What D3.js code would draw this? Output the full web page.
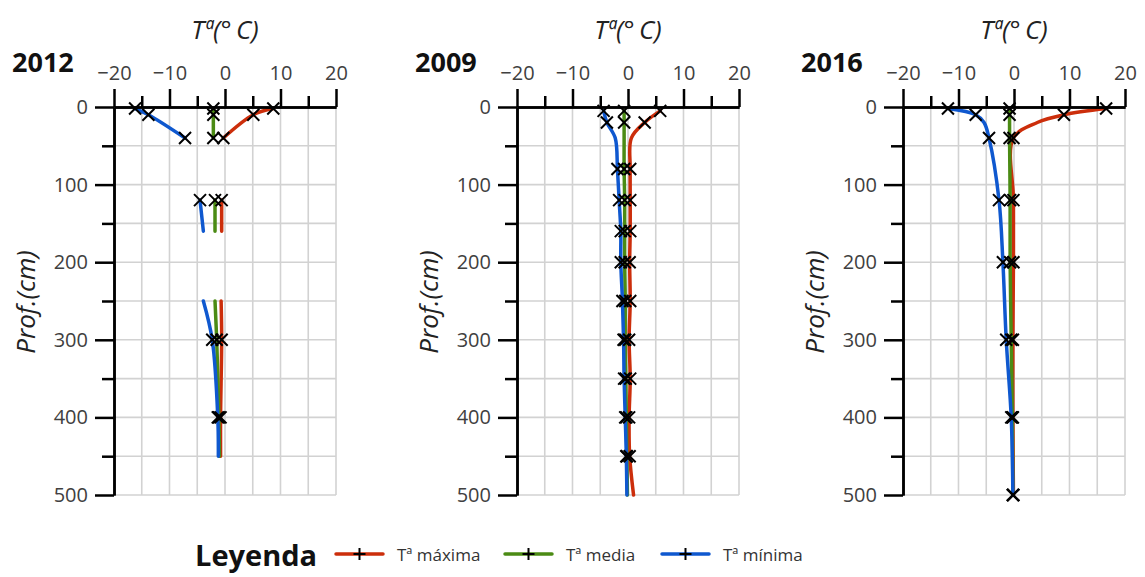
<!DOCTYPE html>
<html>
<head>
<meta charset="utf-8">
<script src="https://cdn.jsdelivr.net/npm/d3@7"></script>
<style>
  body { margin: 0; background: #fff; }
  svg { display: block; font-family: "Open Sans", sans-serif; }
</style>
</head>
<body>
<div id="chart"></div>
<script>
// ─── DATA ───────────────────────────────────────────────────────────────────
const years = ['2012', '2009', '2016'];

// 2012 (null = no reading, breaks the line)
const depth2012 = [2, 10, 40, 80, 120, 160, 200, 250, 300, 400, 450];
const max2012   = [8.7, 5.1, -0.3, null, -0.6, -0.6, null, -0.7, -0.6, -0.8, -0.8];
const mean2012  = [-2.1, -2.1, -2.1, null, -1.8, -1.8, null, -1.8, -1.5, -1.1, -1.0];
const min2012   = [-16.2, -13.8, -7.2, null, -4.5, -3.9, null, -3.9, -2.3, -1.3, -1.2];
const marks2012 = [2, 10, 40, 120, 300, 400];

// 2009
const depth2009 = [5, 20, 40, 80, 120, 160, 200, 250, 300, 350, 400, 450, 500];
const max2009   = [5.8, 3.0, 0.6, 0.4, 0.4, 0.4, 0.3, 0.4, 0.2, 0.4, 0.2, 0.3, 1.0];
const mean2009  = [-0.7, -0.7, -0.7, -0.7, -0.6, -0.6, -0.6, -0.5, -0.5, -0.4, -0.3, -0.2, -0.1];
const min2009   = [-4.4, -3.8, -2.3, -1.9, -1.6, -1.3, -1.3, -1.0, -0.8, -0.7, -0.5, -0.3, -0.2];
const marks2009 = [5, 20, 80, 120, 160, 200, 250, 300, 350, 400, 450];

// 2016
const depth2016 = [2, 10, 20, 40, 120, 200, 300, 400, 500];
const max2016   = [16.6, 9.0, 4.2, -0.1, -0.1, -0.1, -0.2, -0.2, -0.1];
const mean2016  = [-0.8, -0.8, -0.8, -0.8, -0.7, -0.7, -0.5, -0.3, -0.2];
const min2016   = [-11.9, -6.9, -5.4, -4.5, -2.7, -2.0, -1.4, -0.5, -0.2];
const marks2016 = [2, 10, 40, 120, 200, 300, 400, 500];

const seriesNames = ['Tª máxima', 'Tª media', 'Tª mínima'];
const xMajor = [-20, -10, 0, 10, 20];
const xMinor = [-15, -5, 5, 15];
const yMajor = [0, 100, 200, 300, 400, 500];
const yMinor = [50, 150, 250, 350, 450];

// ─── LAYOUT ─────────────────────────────────────────────────────────────────
const W = 1145, H = 577;
const colors = ['#cc2e0b', '#4b8b14', '#0f58cf'];
const panelX = [114, 517, 903];
const plotW = 222;
const yTop = 107, yBottom = 495;

const panels = [
  { year: years[0], depth: depth2012, vals: [max2012, mean2012, min2012], marks: marks2012 },
  { year: years[1], depth: depth2009, vals: [max2009, mean2009, min2009], marks: marks2009 },
  { year: years[2], depth: depth2016, vals: [max2016, mean2016, min2016], marks: marks2016 }
];

const svg = d3.select('#chart').append('svg')
  .attr('width', W).attr('height', H);

const yScale = d3.scaleLinear().domain([0, 500]).range([yTop, yBottom]);

function cross(g, cx, cy, r) {
  g.append('path')
    .attr('d', `M${cx - r},${cy - r}L${cx + r},${cy + r}M${cx - r},${cy + r}L${cx + r},${cy - r}`)
    .attr('stroke', '#000').attr('stroke-width', 2).attr('fill', 'none');
}

panels.forEach((p, i) => {
  const x0 = panelX[i];
  const xScale = d3.scaleLinear().domain([-20, 20]).range([x0, x0 + plotW]);
  const g = svg.append('g');

  // grid
  const gx = d3.range(-15, 21, 5);
  g.selectAll('.vg').data(gx).enter().append('line')
    .attr('x1', d => xScale(d)).attr('x2', d => xScale(d))
    .attr('y1', yTop).attr('y2', yBottom)
    .attr('stroke', '#d2d2d2').attr('stroke-width', 1.6);
  const gy = d3.range(50, 501, 50);
  g.selectAll('.hg').data(gy).enter().append('line')
    .attr('x1', x0).attr('x2', x0 + plotW)
    .attr('y1', d => yScale(d)).attr('y2', d => yScale(d))
    .attr('stroke', '#d2d2d2').attr('stroke-width', 1.6);

  // series lines
  p.vals.forEach((vals, k) => {
    const pts = p.depth.map((d, j) => ({ d: d, v: vals[j] }));
    const line = d3.line()
      .defined(o => o.v !== null)
      .x(o => xScale(o.v)).y(o => yScale(o.d))
      .curve(d3.curveCatmullRom.alpha(0.5));
    g.append('path').datum(pts)
      .attr('d', line)
      .attr('fill', 'none')
      .attr('stroke', colors[k])
      .attr('stroke-width', 3.5)
      .attr('stroke-linecap', 'round');
  });

  // markers
  p.vals.forEach(vals => {
    p.depth.forEach((d, j) => {
      if (vals[j] === null || p.marks.indexOf(d) < 0) return;
      cross(g, xScale(vals[j]), yScale(d), 6);
    });
  });

  // x axis (top)
  const xAx = g.append('g').attr('transform', `translate(0,${yTop})`);
  xAx.call(d3.axisTop(xScale).tickValues(xMinor).tickSize(11).tickSizeOuter(0).tickFormat(''));
  xAx.append('g').call(d3.axisTop(xScale).tickValues(xMajor).tickSize(18).tickSizeOuter(0).tickPadding(9));
  xAx.selectAll('path, line').attr('stroke', '#000').attr('stroke-width', 2.5);
  xAx.selectAll('text').attr('font-size', 20).attr('fill', '#404040')
    .attr('font-family', '"Open Sans", sans-serif');

  // y axis (left)
  const yAx = g.append('g').attr('transform', `translate(${x0},0)`);
  yAx.call(d3.axisLeft(yScale).tickValues(yMinor).tickSize(12).tickSizeOuter(0).tickFormat(''));
  yAx.append('g').call(d3.axisLeft(yScale).tickValues(yMajor).tickSize(19).tickSizeOuter(0).tickPadding(7));
  yAx.selectAll('path, line').attr('stroke', '#000').attr('stroke-width', 2.5);
  yAx.selectAll('text').attr('font-size', 20).attr('fill', '#404040')
    .attr('font-family', '"Open Sans", sans-serif');

  // labels
  g.append('text').attr('x', x0 - 102).attr('y', 72)
    .attr('font-size', 27).attr('font-weight', 'bold').attr('fill', '#111')
    .text(p.year);
  g.append('text').attr('x', xScale(0)).attr('y', 39)
    .attr('text-anchor', 'middle').attr('font-size', 26).attr('font-style', 'italic')
    .attr('fill', '#222')
    .text('Tª(°\u2009C)');
  g.append('text')
    .attr('transform', `translate(${x0 - 79},${302}) rotate(-90)`)
    .attr('text-anchor', 'middle').attr('font-size', 26).attr('font-style', 'italic')
    .attr('fill', '#222')
    .text('Prof.(cm)');
});

// ─── LEGEND ─────────────────────────────────────────────────────────────────
const leg = svg.append('g');
leg.append('text').attr('x', 195).attr('y', 566)
  .attr('font-size', 29).attr('font-weight', 'bold').attr('fill', '#111')
  .text('Leyenda');
const legX = [336, 505, 662];
seriesNames.forEach((name, k) => {
  const lx = legX[k], ly = 554;
  leg.append('line').attr('x1', lx).attr('x2', lx + 47).attr('y1', ly).attr('y2', ly)
    .attr('stroke', colors[k]).attr('stroke-width', 3.5).attr('stroke-linecap', 'round');
  leg.append('path')
    .attr('d', `M${lx + 23.5},${ly - 6}V${ly + 6}M${lx + 17.5},${ly}H${lx + 29.5}`)
    .attr('stroke', '#000').attr('stroke-width', 2);
  leg.append('text').attr('x', lx + 61).attr('y', 561)
    .attr('font-size', 17).attr('fill', '#333')
    .text(name);
});
</script>
</body>
</html>
